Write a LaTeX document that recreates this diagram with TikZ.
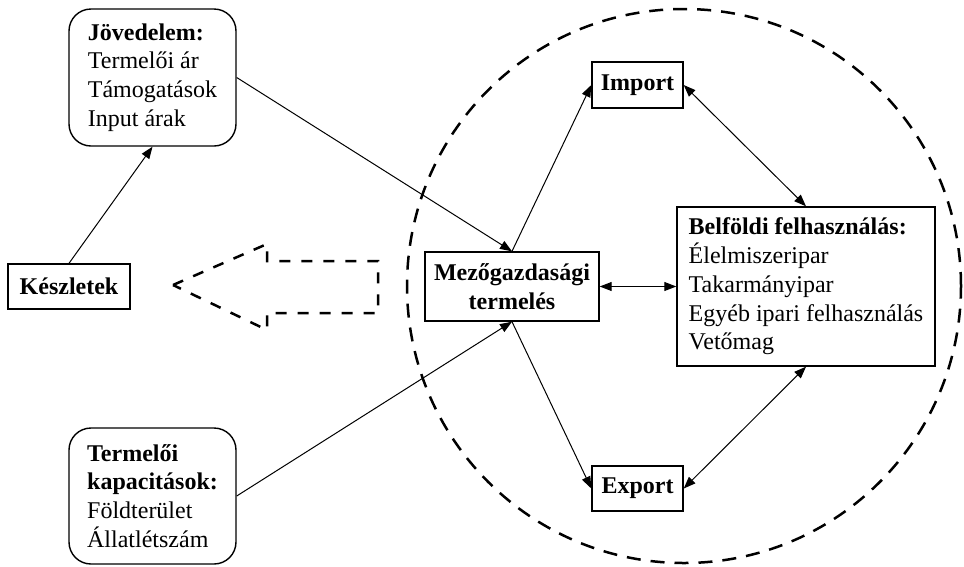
\documentclass[tikz,border=0pt]{standalone}
\usepackage{fontspec}
\setmainfont{Liberation Serif}
\usetikzlibrary{arrows.meta}
\begin{document}
\begin{tikzpicture}[x=1pt,y=-1pt,
  every node/.style={font=\fontsize{24}{28.8}\selectfont},
  sqbox/.style={draw,line width=1.4pt,rectangle,inner sep=0pt},
  rbox/.style={draw,line width=1.4pt,rectangle,rounded corners=22pt,inner sep=0pt},
  arr/.style={line width=1pt,-{Triangle[length=12pt,width=9pt]}},
  darr/.style={line width=1pt,{Triangle[length=12pt,width=9pt]}-{Triangle[length=12pt,width=9pt]}},
  circdash/.style={line width=2.5pt,dash pattern=on 14pt off 10pt}
]
\useasboundingbox (0,0) rectangle (964,566);
% dashed circle
\draw[circdash] (684,286) circle[radius=277pt];
% dashed hollow arrow
\draw[line width=2.5pt,dash pattern=on 11pt off 11pt] (173,285) -- (267,244) -- (267,261) -- (378,261) -- (378,313) -- (267,313) -- (267,330) -- cycle;
% nodes
\node[rbox,minimum width=167pt,minimum height=137pt,align=left] (jov) at (152.5,77.5)
  {\textbf{Jövedelem:}\\Termelői ár\\Támogatások\\Input árak};
\node[rbox,minimum width=167pt,minimum height=136pt,align=left] (term) at (152.5,496)
  {\textbf{Termelői}\\\textbf{kapacitások:}\\Földterület\\Állatlétszám};
\node[sqbox,minimum width=122pt,minimum height=45pt,font=\fontsize{24}{28.8}\selectfont\bfseries] (kesz) at (69,286.5) {Készletek};
\node[sqbox,minimum width=174pt,minimum height=69pt,align=center,font=\fontsize{24}{28.8}\selectfont\bfseries] (mezo) at (512,286.5) {Mezőgazdasági\\termelés};
\node[sqbox,minimum width=91pt,minimum height=46pt,font=\fontsize{24}{28.8}\selectfont\bfseries] (imp) at (637.5,85) {Import};
\node[sqbox,minimum width=91pt,minimum height=45pt,font=\fontsize{24}{28.8}\selectfont\bfseries] (exp) at (637.5,488.5) {Export};
\node[sqbox,minimum width=258pt,minimum height=159pt,align=left] (belf) at (806,286.5)
  {\textbf{Belföldi felhasználás:}\\Élelmiszeripar\\Takarmányipar\\Egyéb ipari felhasználás\\Vetőmag};
% connectors
\draw[arr] (kesz.north) -- (jov.south);
\draw[arr] (jov.east) -- (mezo.north);
\draw[arr] (term.east) -- (mezo.south);
\draw[arr] (mezo.north) -- (imp.west);
\draw[arr] (mezo.south) -- (exp.west);
\draw[darr] (mezo.east) -- (belf.west);
\draw[darr] (imp.east) -- (belf.north);
\draw[darr] (exp.east) -- (belf.south);
\end{tikzpicture}
\end{document}
